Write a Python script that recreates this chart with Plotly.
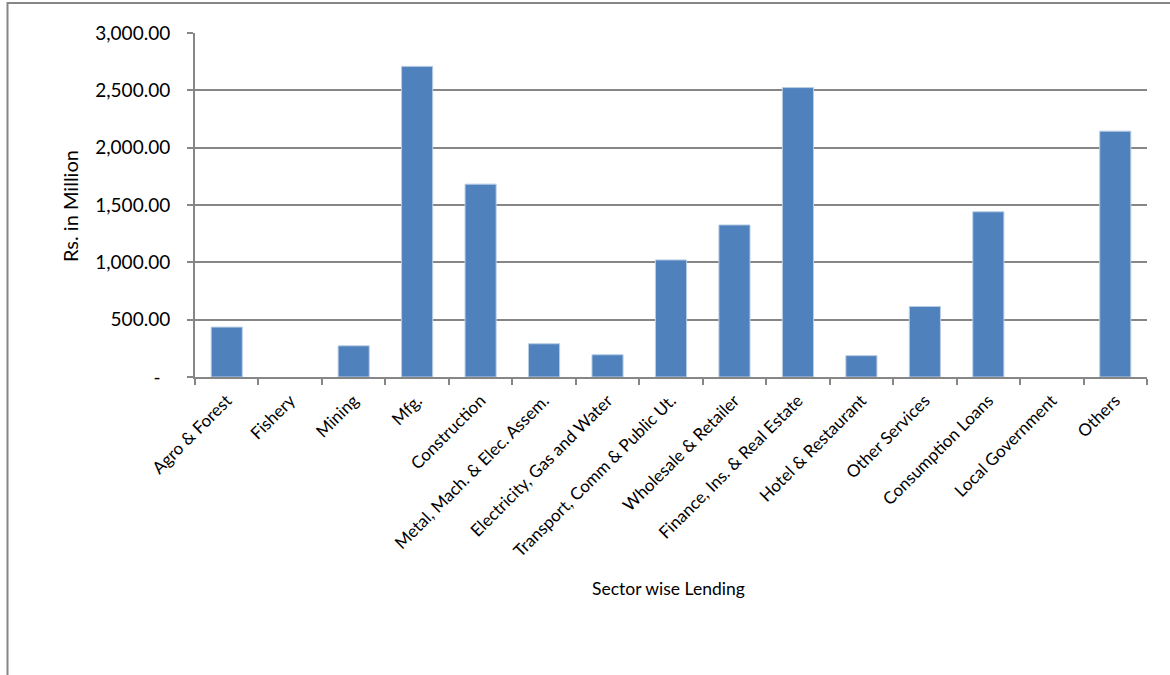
import plotly.graph_objects as go

sectors = [
    "Agro & Forest", "Fishery", "Mining", "Mfg.", "Construction",
    "Metal, Mach. & Elec. Assem.", "Electricity, Gas and Water",
    "Transport, Comm & Public Ut.", "Wholesale & Retailer",
    "Finance, Ins. & Real Estate", "Hotel & Restaurant", "Other Services",
    "Consumption Loans", "Local Government", "Others",
]
lending = [435, 0, 272, 2709, 1682, 290, 194, 1021, 1326, 2524, 186, 615, 1441, 0, 2144]

y_ticks = [0, 500, 1000, 1500, 2000, 2500, 3000]
y_tick_text = ["-\u00a0\u00a0", "500.00", "1,000.00", "1,500.00", "2,000.00", "2,500.00", "3,000.00"]

FONT = "Lato, Open Sans, sans-serif"
GRID = "#868686"

# empty sectors get no outline so nothing shows on the baseline
outline_w = [1 if v > 0 else 0 for v in lending]

fig = go.Figure(
    go.Bar(
        x=sectors,
        y=lending,
        marker=dict(color="#4F81BD", line=dict(color="#B9CDE5", width=outline_w)),
    )
)

W, H = 1170, 675
L, R, T, B = 195, 23, 33, 298
pw, ph = W - L - R, H - T - B

def px_x(x):
    return (x - L) / pw

def px_y(y):
    return (H - B - y) / ph

fig.update_layout(
    width=W,
    height=H,
    margin=dict(l=L, r=R, t=T, b=B, autoexpand=False),
    paper_bgcolor="white",
    plot_bgcolor="white",
    bargap=0.51,
    showlegend=False,
    font=dict(family=FONT, color="#000000"),
    xaxis=dict(
        type="category",
        tickangle=-45,
        tickfont=dict(size=17, family=FONT),
        ticklabelstandoff=5,
        showline=True,
        linecolor=GRID,
        linewidth=2,
        ticks="outside",
        tickson="boundaries",
        ticklen=6,
        tickcolor=GRID,
        tickwidth=2,
        showgrid=False,
        automargin=False,
    ),
    yaxis=dict(
        range=[0, 3000],
        tickvals=y_ticks,
        ticktext=y_tick_text,
        tickfont=dict(size=19, family=FONT),
        ticklabelstandoff=13,
        showline=True,
        linecolor=GRID,
        linewidth=2,
        ticks="outside",
        ticklen=6,
        tickcolor=GRID,
        tickwidth=2,
        showgrid=True,
        gridcolor=GRID,
        gridwidth=2,
        zeroline=False,
        automargin=False,
    ),
    annotations=[
        dict(
            text="Rs. in Million",
            xref="paper", yref="paper",
            x=px_x(70), y=px_y(206),
            textangle=-90,
            showarrow=False,
            font=dict(size=20, family=FONT),
            xanchor="center", yanchor="middle",
        ),
        dict(
            text="Sector wise Lending",
            xref="paper", yref="paper",
            x=px_x(668), y=px_y(588),
            showarrow=False,
            font=dict(size=17.5, family=FONT),
            xanchor="center", yanchor="middle",
        ),
    ],
    shapes=[
        dict(
            type="rect",
            xref="paper", yref="paper",
            x0=px_x(7.5), x1=px_x(1180),
            y0=px_y(700), y1=px_y(3),
            line=dict(color="#868686", width=2),
            fillcolor="rgba(0,0,0,0)",
            layer="below",
        )
    ],
)

fig.write_html("out.html")
